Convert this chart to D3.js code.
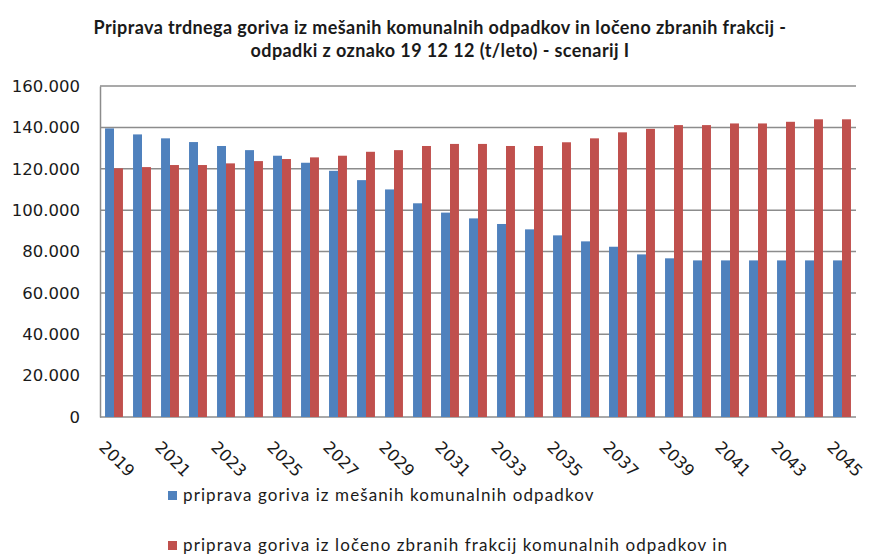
<!DOCTYPE html>
<html lang="sl">
<head>
    <meta charset="UTF-8">
    <title>Priprava trdnega goriva</title>
    <script src="https://d3js.org/d3.v7.min.js" charset="utf-8"></script>
    <style>
        body {
            margin: 0;
            background: #fff;
        }
        #chart text {
            fill: #1a1a1a;
        }
    </style>
</head>
<body>
    <div id="chart"></div>
    <script>
        // data (t/leto)
        const years = d3.range(2019, 2046).map(String);
        const mesani = [139.5, 136.6, 134.7, 132.9, 131.0, 129.0, 126.3, 122.9, 119.0, 114.5,
            110.0, 103.3, 98.8, 96.0, 93.3, 90.7, 87.8, 84.9, 82.3, 78.6,
            76.7, 75.7, 75.7, 75.7, 75.7, 75.7, 75.7].map(v => v * 1000);
        const loceno = [120.2, 120.8, 121.8, 121.8, 122.6, 123.7, 124.7, 125.5, 126.3, 128.2,
            129.0, 131.0, 132.0, 132.0, 131.0, 131.0, 132.8, 134.7, 137.6, 139.3,
            141.1, 141.1, 141.9, 141.9, 142.7, 143.9, 143.9].map(v => v * 1000);
        const yTicks = [0, 20000, 40000, 60000, 80000, 100000, 120000, 140000, 160000];
        const seriesNames = ["priprava goriva iz mešanih komunalnih odpadkov",
            "priprava goriva iz ločeno zbranih frakcij komunalnih odpadkov in"];
        const colors = ["#4f81bd", "#c0504d"];
        const titleLines = ["Priprava trdnega goriva iz mešanih komunalnih odpadkov in ločeno zbranih frakcij -",
            "odpadki z oznako 19 12 12 (t/leto) - scenarij I"];

        const width = 875, height = 554;
        const plotLeft = 100, plotRight = 856, plotTop = 86, plotBottom = 417;

        let svg = d3.select("#chart").append("svg")
            .attr("width", width)
            .attr("height", height);

        let x = d3.scaleBand()
            .domain(years)
            .range([plotLeft, plotRight])
            .paddingInner(0.36)
            .paddingOuter(0.18);
        let xs = d3.scaleBand()
            .domain([0, 1])
            .range([0, x.bandwidth()]);
        let y = d3.scaleLinear()
            .domain([0, 160000])
            .range([plotBottom, plotTop]);

        // gridlines
        svg.append("g")
            .selectAll("line")
            .data(yTicks)
            .enter().append("line")
            .attr("x1", plotLeft).attr("x2", plotRight)
            .attr("y1", d => y(d)).attr("y2", d => y(d))
            .attr("stroke", "#8c8c8c")
            .attr("stroke-width", 1.5);

        // y axis
        let fmt = d => d3.format(",")(d).replace(/,/g, ".");
        let yAxis = svg.append("g")
            .attr("transform", `translate(${plotLeft},0)`)
            .call(d3.axisLeft(y).tickValues(yTicks).tickFormat(fmt).tickSize(0).tickPadding(20));
        yAxis.select(".domain").attr("stroke", "#8c8c8c").attr("stroke-width", 1.5);
        yAxis.selectAll("text")
            .attr("font-family", "'DejaVu Sans', Verdana, sans-serif")
            .attr("font-size", 16.5)
            .attr("fill", "#1a1a1a");

        // bars
        let groups = svg.append("g")
            .selectAll("g")
            .data(years)
            .enter().append("g")
            .attr("transform", d => `translate(${x(d)},0)`);
        groups.selectAll("rect")
            .data((d, i) => [mesani[i], loceno[i]])
            .enter().append("rect")
            .attr("x", (d, j) => xs(j))
            .attr("width", xs.bandwidth())
            .attr("y", d => y(d))
            .attr("height", d => y(0) - y(d))
            .attr("fill", (d, j) => colors[j]);

        // x labels, every second year
        svg.append("g")
            .selectAll("text")
            .data(years.filter((d, i) => i % 2 === 0))
            .enter().append("text")
            .attr("transform", d => `translate(${x(d) + x.bandwidth() / 2 + 3},459) rotate(45)`)
            .attr("text-anchor", "middle")
            .attr("dy", "0.35em")
            .attr("font-family", "'DejaVu Sans', Verdana, sans-serif")
            .attr("font-size", 16.5)
            .text(d => d);

        // title
        svg.append("g")
            .selectAll("text")
            .data(titleLines)
            .enter().append("text")
            .attr("x", 440)
            .attr("y", (d, i) => 34 + i * 23)
            .attr("text-anchor", "middle")
            .attr("font-family", "Lato, sans-serif")
            .attr("font-weight", "bold")
            .attr("font-size", 18)
            .attr("letter-spacing", 0.4)
            .text(d => d);

        // legend
        let legend = svg.append("g")
            .selectAll("g")
            .data(seriesNames)
            .enter().append("g")
            .attr("transform", (d, i) => `translate(168,${496 + i * 50})`);
        legend.append("rect")
            .attr("x", 0).attr("y", -5)
            .attr("width", 9).attr("height", 9)
            .attr("fill", (d, i) => colors[i]);
        legend.append("text")
            .attr("x", 15)
            .attr("y", 5)
            .attr("font-family", "Lato, sans-serif")
            .attr("font-size", 17)
            .attr("letter-spacing", 1.1)
            .text(d => d);
    </script>
</body>
</html>
